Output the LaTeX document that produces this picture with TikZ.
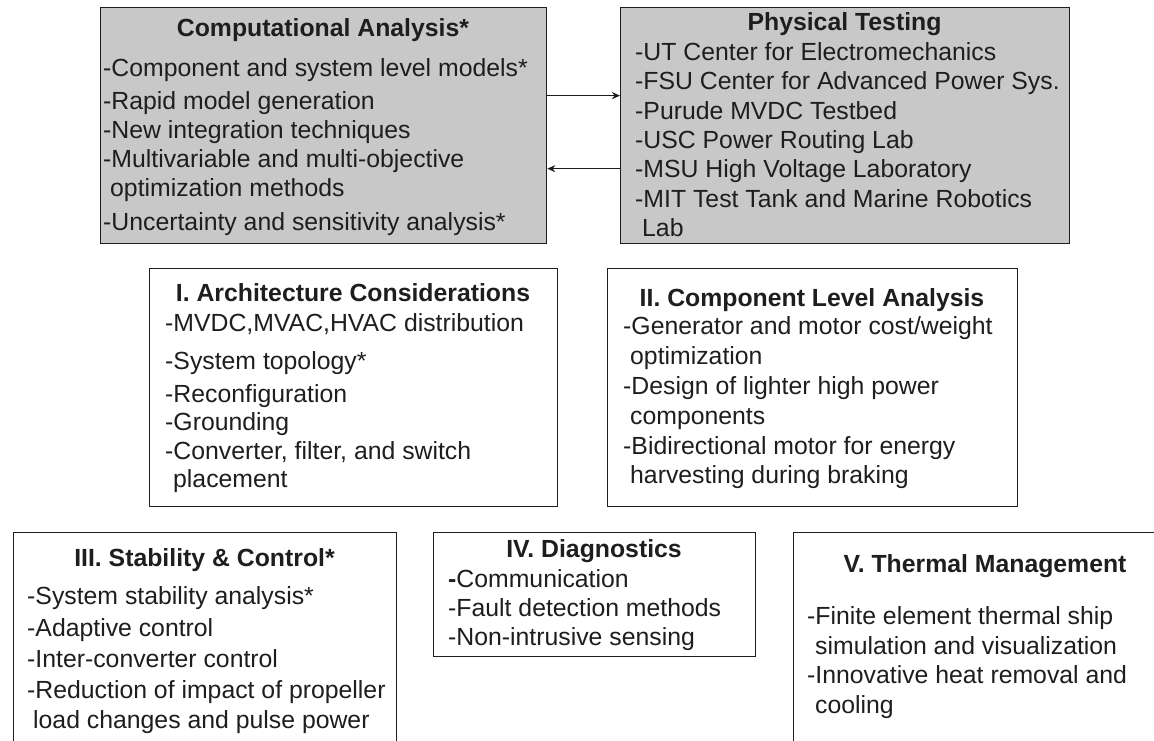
\documentclass[tikz,border=0pt]{standalone}
\usepackage{fontspec}
\setmainfont{Liberation Sans}
\usetikzlibrary{arrows.meta}
\definecolor{boxgray}{RGB}{200,200,200}
\definecolor{inkcol}{RGB}{30,30,30}
\tikzset{
  box/.style={draw=inkcol, line width=1.3pt, rectangle, inner sep=0pt, anchor=north west},
  graybox/.style={box, fill=boxgray},
  txt/.style={anchor=base west, inner sep=0pt, text=inkcol, font=\fontsize{24.8pt}{29pt}\selectfont},
  ttl/.style={anchor=base, inner sep=0pt, text=inkcol, font=\fontsize{24.8pt}{29pt}\selectfont\bfseries},
  arr/.style={draw=inkcol, line width=1.3pt, -{Stealth[length=8pt,width=7pt]}}
}
\begin{document}
\begin{tikzpicture}[x=1pt,y=-1pt]
\clip (0,0) rectangle (1154,740);
\fill[white] (0,0) rectangle (1154,740);
% boxes
\node[graybox, minimum width=446pt, minimum height=236pt] (ca) at (100,7) {};
\node[graybox, minimum width=449pt, minimum height=236pt] (pt) at (620,7) {};
\node[box, minimum width=408pt, minimum height=238pt] (b1) at (149,268) {};
\node[box, minimum width=410pt, minimum height=238pt] (b2) at (607,268) {};
\node[box, minimum width=383pt, minimum height=230pt] (b3) at (13,532) {};
\node[box, minimum width=322pt, minimum height=124pt] (b4) at (433,532) {};
\node[box, minimum width=384pt, minimum height=230pt] (b5) at (793,532) {};
% arrows
\draw[arr] ([yshift=30pt]ca.east) -- ([yshift=30pt]pt.west);
\draw[arr] ([yshift=-43pt]pt.west) -- ([yshift=-43pt]ca.east);
% Computational Analysis
\node[ttl] (catitle) at (323,36) {Computational Analysis*};
\node[txt] (ca1) at (103,76) {-Component and system level models*};
\node[txt] (ca2) at (103,109) {-Rapid model generation};
\node[txt] (ca3) at (103,138) {-New integration techniques};
\node[txt] (ca4) at (103,167) {-Multivariable and multi-objective};
\node[txt] (ca5) at (110,196) {optimization methods};
\node[txt] (ca6) at (103,230) {-Uncertainty and sensitivity analysis*};
% Physical Testing
\node[ttl] (pttitle) at (844.5,30) {Physical Testing};
\node[txt] (pt1) at (635,60) {-UT Center for Electromechanics};
\node[txt] (pt2) at (635,89.5) {-FSU Center for Advanced Power Sys.};
\node[txt] (pt3) at (635,119) {-Purude MVDC Testbed};
\node[txt] (pt4) at (635,148) {-USC Power Routing Lab};
\node[txt] (pt5) at (635,177.5) {-MSU High Voltage Laboratory};
\node[txt] (pt6) at (635,207) {-MIT Test Tank and Marine Robotics};
\node[txt] (pt7) at (642,236) {Lab};
% I
\node[ttl] (b1title) at (353,301) {I. Architecture Considerations};
\node[txt] (b1l1) at (165,331) {-MVDC,MVAC,HVAC distribution};
\node[txt] (b1l2) at (165,369) {-System topology*};
\node[txt] (b1l3) at (165,402) {-Reconfiguration};
\node[txt] (b1l4) at (165,430) {-Grounding};
\node[txt] (b1l5) at (165,459) {-Converter, filter, and switch};
\node[txt] (b1l6) at (173,487) {placement};
% II
\node[ttl] (b2title) at (812,306) {II. Component Level Analysis};
\node[txt] (b2l1) at (623,334) {-Generator and motor cost/weight};
\node[txt] (b2l2) at (630,364) {optimization};
\node[txt] (b2l3) at (623,394) {-Design of lighter high power};
\node[txt] (b2l4) at (630,424) {components};
\node[txt] (b2l5) at (623,454) {-Bidirectional motor for energy};
\node[txt] (b2l6) at (630,483) {harvesting during braking};
% III
\node[ttl] (b3title) at (204.5,566) {III. Stability \& Control*};
\node[txt] (b3l1) at (27,604) {-System stability analysis*};
\node[txt] (b3l2) at (27,636) {-Adaptive control};
\node[txt] (b3l3) at (27,667) {-Inter-converter control};
\node[txt] (b3l4) at (27,698) {-Reduction of impact of propeller};
\node[txt] (b3l5) at (33,728) {load changes and pulse power};
% IV
\node[ttl] (b4title) at (594,557) {IV. Diagnostics};
\node[txt] (b4l1) at (448,587) {\textbf{-}Communication};
\node[txt] (b4l2) at (448,616) {-Fault detection methods};
\node[txt] (b4l3) at (448,645) {-Non-intrusive sensing};
% V
\node[ttl] (b5title) at (985,572) {V. Thermal Management};
\node[txt] (b5l1) at (807,624) {-Finite element thermal ship};
\node[txt] (b5l2) at (815,654) {simulation and visualization};
\node[txt] (b5l3) at (807,683) {-Innovative heat removal and};
\node[txt] (b5l4) at (815,713) {cooling};
\end{tikzpicture}
\end{document}
